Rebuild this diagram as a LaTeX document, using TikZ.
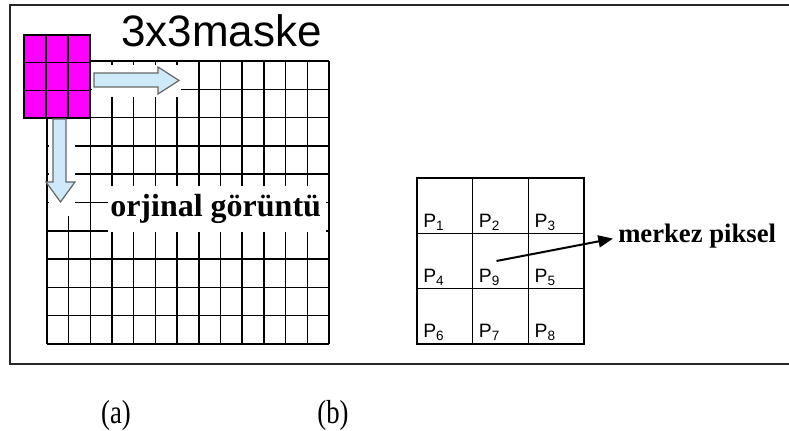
\documentclass[tikz,border=0pt]{standalone}
\usepackage{fontspec}
\setmainfont{Liberation Serif}
\setsansfont{Liberation Sans}
\usetikzlibrary{arrows.meta,positioning}

\definecolor{maskpink}{RGB}{255,0,255}
\definecolor{slideblue}{RGB}{205,233,250}
\newcommand{\psub}[1]{P\textsubscript{#1}}

\begin{document}
\begin{tikzpicture}[
  x=0.75pt, y=-0.75pt,
  frame/.style={draw=black!85, line width=1.2pt},
  gridline/.style={line width=1.1pt},
  maskcell/.style={draw, fill=maskpink, line width=1.1pt, minimum width=16.5pt,
    minimum height=20.75pt, inner sep=0pt, outer sep=0pt},
  slide/.style={draw=black!60, fill=slideblue, line width=0.9pt},
  cell/.style={draw, line width=0.7pt, minimum width=41.75pt,
    minimum height=41.5pt, inner sep=0pt, outer sep=0pt},
  plabel/.style={font=\sffamily\fontsize{14.5}{16}\selectfont, inner sep=0pt,
    anchor=base west},
  caption/.style={font=\fontsize{25}{28}\selectfont, anchor=base},
  pointer/.style={-{Triangle[length=11pt, width=9pt]}, line width=1.5pt}
]
  \useasboundingbox (0,0) rectangle (789,431);
  \draw[frame] (789,5) -- (10,5) -- (10,364) -- (789,364);

  % (a) image grid and sliding mask
  \foreach \i in {0,...,13}
    \draw[gridline] ({47+21.69*\i},61) -- ({47+21.69*\i},344);
  \foreach \j in {0,...,10}
    \draw[gridline] (47,{61+28.3*\j}) -- (329,{61+28.3*\j});
  \fill[white] (92,65) rectangle (181,97);
  \fill[white] (49,119) rectangle (75,216);
  \fill[white] (107.5,186) rectangle (326,232);

  \foreach \r in {1,2,3}
    \foreach \c in {1,2,3}
      \node[maskcell] (m\r\c) at ({24+22*(\c-0.5)}, {35+27.67*(\r-0.5)}) {};

  \draw[slide] (94,73) -- (158,73) -- (158,67) -- (179,80.5) -- (158,94)
    -- (158,87) -- (94,87) -- cycle;
  \draw[slide] (53,119) -- (66,119) -- (66,182) -- (75,182) -- (60.5,202)
    -- (46,182) -- (53,182) -- cycle;

  \node[font=\sffamily\fontsize{33}{36}\selectfont, anchor=base west,
    inner sep=0pt] (title) at (121,47) {3x3maske};
  \node[font=\bfseries\fontsize{24}{26}\selectfont, anchor=base west,
    inner sep=0pt] (orig) at (110,217) {orjinal görüntü};

  % (b) 3x3 neighbourhood
  \foreach \r in {1,2,3}
    \foreach \c in {1,2,3}
      \node[cell] (p\r\c) at ({417+55.67*(\c-0.5)}, {178+55.33*(\r-0.5)}) {};
  \draw[line width=1.6pt] (p11.north west) rectangle (p33.south east);
  \foreach \r/\c/\k in {1/1/1,1/2/2,1/3/3,2/1/4,2/2/9,2/3/5,3/1/6,3/2/7,3/3/8}
    \node[plabel] (lab\k) at ([shift={(6,-6)}]p\r\c.south west) {\psub{\k}};

  \node[font=\bfseries\fontsize{20}{24}\selectfont, anchor=base west,
    inner sep=0pt] (merkez) at (618,243) {merkez piksel};
  \draw[pointer] ([shift={(-4,0)}]p22.center) -- ([shift={(-5,2)}]merkez.west);

  \node[caption] (capa) at (116,423) {\scalebox{0.8}[1]{(a)}};
  \node[caption] (capb) at (333,423) {\scalebox{0.8}[1]{(b)}};
\end{tikzpicture}
\end{document}
